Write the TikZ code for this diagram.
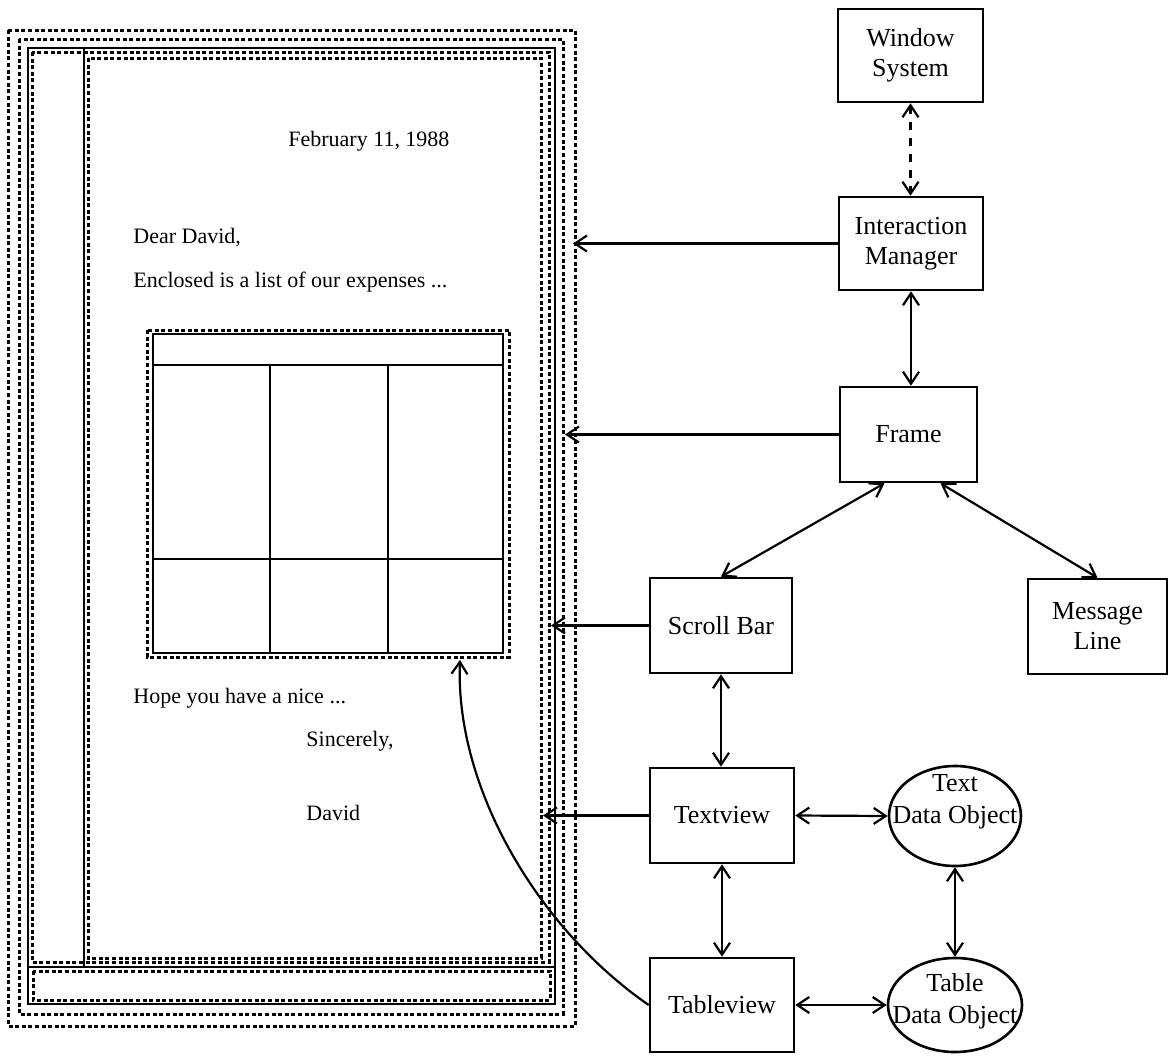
\documentclass[tikz,border=0pt]{standalone}
\usepackage{fontspec}
\setmainfont{Liberation Serif}
\usetikzlibrary{arrows.meta,shapes.geometric,calc}
\begin{document}
\begin{tikzpicture}[x=0.5pt,y=-0.5pt,
  box/.style={draw,line width=1.3pt,rectangle,inner sep=0pt,align=center,font=\fontsize{13}{15}\selectfont},
  oval/.style={draw,line width=1.3pt,ellipse,inner sep=0pt},
  lbl/.style={align=center,inner sep=0pt,font=\fontsize{13}{16}\selectfont},
  tip/.tip={Straight Barb[length=6pt,width=8pt]},
  arr/.style={line width=1.1pt,-tip},
  darr/.style={line width=1.1pt,tip-tip},
  dots/.style={line width=1.5pt,dash pattern=on 2pt off 1.3pt},
  frm/.style={line width=1.3pt},
  letter/.style={anchor=west,font=\fontsize{11}{13}\selectfont,inner sep=0pt},
]
\useasboundingbox (0,0) rectangle (1169,1056);

% window frame
\draw[dots] (8,30) rectangle (575,1026);
\draw[dots] (19,39) rectangle (563,1014);
\draw[frm] (28,48) rectangle (555,1004);
\draw[frm] (84,48) -- (84,967);
\draw[frm] (28,967) -- (555,967);
\draw[dots] (32,52) rectangle (549,962);
\draw[dots] (88,58) rectangle (541,958);
\draw[dots] (33,971) rectangle (550,1000);

% table
\draw[dots] (147,330) rectangle (509,657);
\draw[frm] (153,334) rectangle (503,653);
\draw[frm] (153,365) -- (503,365);
\draw[frm] (153,559) -- (503,559);
\draw[frm] (270,365) -- (270,653);
\draw[frm] (388,365) -- (388,653);

% letter text
\node[letter] (date) at (288,141) {February 11, 1988};
\node[letter] (dear) at (133,238) {Dear David,};
\node[letter] (encl) at (133,282) {Enclosed is a list of our expenses ...};
\node[letter] (hope) at (133,698) {Hope you have a nice ...};
\node[letter] (sinc) at (306,741) {Sincerely,};
\node[letter] (sign) at (306,813) {David};

% boxes
\node[box,minimum width=72.5pt,minimum height=46.5pt] (ws) at (910.5,55.5) {Window\\System};
\node[box,minimum width=72pt,minimum height=46.5pt] (im) at (911,243.5) {Interaction\\Manager};
\node[box,minimum width=68.5pt,minimum height=47.5pt] (frame) at (908.5,434.5) {Frame};
\node[box,minimum width=71pt,minimum height=47.5pt] (sb) at (721,625.5) {Scroll Bar};
\node[box,minimum width=69.5pt,minimum height=47.5pt] (msg) at (1097.5,626.5) {Message\\Line};
\node[box,minimum width=72pt,minimum height=47.5pt] (tv) at (722,815.5) {Textview};
\node[box,minimum width=72pt,minimum height=47pt] (tbv) at (722,1005) {Tableview};
\node[oval,minimum width=66pt,minimum height=50pt,
      label={[lbl,yshift=7pt]center:Text\\Data Object}] (tdo) at (955,816) {};
\node[oval,minimum width=67pt,minimum height=47pt,
      label={[lbl,yshift=2pt]center:Table\\Data Object}] (tbdo) at (955,1005) {};

% targets
\coordinate (tIM) at (573,0);
\coordinate (tFR) at (565,0);
\coordinate (tSB) at (551,0);
\coordinate (tTV) at (543,0);
\coordinate (tTab) at (460,660);

% connectors
\draw[darr,dash pattern=on 4pt off 4pt] (ws.south) -- (ws.south |- im.north);
\draw[arr] (im.west) -- (im.west -| tIM);
\draw[darr] (im.south) -- (im.south |- frame.north);
\draw[arr] (frame.west) -- (frame.west -| tFR);
\draw[darr] ($(frame.south)+(-24,0)$) -- (sb.north);
\draw[darr] ($(frame.south)+(32,0)$) -- (msg.north);
\draw[arr] (sb.west) -- (sb.west -| tSB);
\draw[darr] (sb.south) -- (sb.south |- tv.north);
\draw[arr] (tv.west) -- (tv.west -| tTV);
\draw[darr] (tv.east) -- (tdo.west);
\draw[darr] (tv.south) -- (tbv.north);
\draw[darr] (tdo.south) -- (tbdo.north);
\draw[darr] (tbv.east) -- (tbdo.west);
\draw[arr] (tbv.west) .. controls (540,930) and (455,790) .. (tTab);
\end{tikzpicture}
\end{document}
